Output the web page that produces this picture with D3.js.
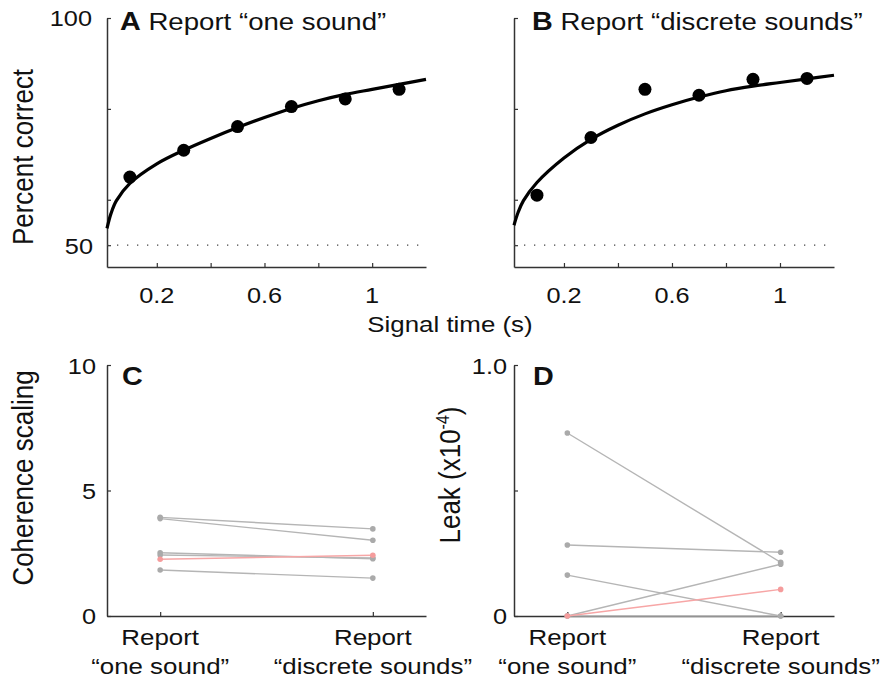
<!DOCTYPE html>
<html>
<head>
<meta charset="utf-8">
<script src="https://cdn.jsdelivr.net/npm/d3@7"></script>
<style>
  body { margin: 0; background: #fff; }
  svg { display: block; font-family: "Liberation Sans", Arial, Helvetica, sans-serif; }
</style>
</head>
<body>
<div id="chart"></div>
<script>
// signal durations and percent correct (panels A, B)
const signalTimes = [0.1, 0.3, 0.5, 0.7, 0.9, 1.1];
const pctOneSound = [65.0, 70.9, 76.1, 80.5, 82.2, 84.3];
const pctDiscrete = [61.0, 73.7, 84.3, 83.0, 86.5, 86.7];

// model fit curves
const fitTimes = [0.015, 0.03, 0.05, 0.1, 0.2, 0.3, 0.4, 0.5, 0.6, 0.7, 0.8, 0.9, 1.0, 1.1, 1.2];
const fitOneSound = [53.7, 57.0, 59.8, 63.6, 67.9, 70.9, 73.5, 75.9, 78.1, 80.1, 81.8, 83.2, 84.3, 85.4, 86.5];
const fitDiscrete = [54.4, 57.2, 59.8, 63.8, 69.2, 73.3, 76.4, 78.9, 80.9, 82.6, 84.0, 85.0, 85.8, 86.6, 87.4];

// per-subject parameters (panels C, D); last subject is the pink one
const conditions = ['Report|\u201cone sound\u201d', 'Report|\u201cdiscrete sounds\u201d'];
const cohOneSound = [3.93, 3.88, 2.52, 2.43, 1.83, 2.26];
const cohDiscrete = [3.47, 3.02, 2.28, 2.31, 1.51, 2.42];
const leakOneSound = [0.729, 0.283, 0.163, 0.0, 0.0, 0.0];
const leakDiscrete = [0.214, 0.254, 0.0, 0.206, 0.0, 0.106];

const xTicksA = [0.2, 0.4, 0.6, 0.8, 1.0];
const xTickLabels = {0.2: '0.2', 0.6: '0.6', 1: '1'};

const width = 884, height = 681;
const stretch = 1.15; // glyphs in the figure are a bit wider than tall

const svg = d3.select('#chart').append('svg')
    .attr('width', width)
    .attr('height', height);

function addText(x, y, str, size, anchor, rot) {
    let t = svg.append('text')
        .attr('transform', 'translate(' + x + ',' + y + ') scale(' + stretch + ',1)' + (rot ? ' rotate(' + rot + ')' : ''))
        .attr('font-size', size)
        .attr('text-anchor', anchor || 'start')
        .attr('fill', '#111')
        .text(str);
    return t;
}

function title(x, y, letter, str) {
    let t = svg.append('text')
        .attr('transform', 'translate(' + x + ',' + y + ') scale(' + stretch + ',1)')
        .attr('fill', '#111');
    t.append('tspan').attr('font-size', 25).attr('font-weight', 'bold').text(letter);
    if (str) t.append('tspan').attr('font-size', 24).text(' ' + str);
}

function drawAxes(x, y, xTicks, yTicks) {
    svg.append('g')
        .attr('transform', 'translate(' + x.range()[0] + ',0)')
        .call(d3.axisLeft(y).tickValues(yTicks).tickSizeInner(-4).tickSizeOuter(0).tickFormat(''))
        .call(styleAxis);
    svg.append('g')
        .attr('transform', 'translate(0,' + y.range()[0] + ')')
        .call(d3.axisBottom(x).tickValues(xTicks).tickSizeInner(-4).tickSizeOuter(0).tickFormat(''))
        .call(styleAxis);
}

function styleAxis(g) {
    g.select('.domain').attr('stroke', '#333').attr('stroke-width', 1.5);
    g.selectAll('.tick line').attr('stroke', '#333').attr('stroke-width', 1.2);
}

// ---- panels A and B ----
let yPct = d3.scaleLinear().domain([45.2, 100]).range([267, 18]);
let xA = d3.scaleLinear().domain([0.015, 1.2]).range([107, 426]);
let xB = d3.scaleLinear().domain([0.015, 1.2]).range([514, 834]);

function psychPanel(x, pts, fit, showY) {
    drawAxes(x, yPct, xTicksA, [50, 60, 80, 100]);

    svg.append('line')
        .attr('x1', x.range()[0]).attr('x2', x.range()[1])
        .attr('y1', yPct(50)).attr('y2', yPct(50))
        .attr('stroke', '#444')
        .attr('stroke-width', 1.3)
        .attr('stroke-dasharray', '1.3,8.7');

    let line = d3.line()
        .x(function(d, i) { return x(fitTimes[i]); })
        .y(function(d) { return yPct(d); })
        .curve(d3.curveCatmullRom.alpha(0.5));

    svg.append('path')
        .datum(fit)
        .attr('d', line)
        .attr('fill', 'none')
        .attr('stroke', '#000')
        .attr('stroke-width', 3.2);

    svg.append('g').selectAll('circle')
        .data(pts)
        .enter().append('circle')
        .attr('cx', function(d, i) { return x(signalTimes[i]); })
        .attr('cy', function(d) { return yPct(d); })
        .attr('r', 6.5)
        .attr('fill', '#000');

    xTicksA.forEach(function(v) {
        if (xTickLabels[v]) addText(x(v), 303, xTickLabels[v], 22, 'middle');
    });
    if (showY) {
        addText(92, yPct(100) + 8, '100', 22, 'end');
        addText(93, yPct(50) + 9, '50', 22, 'end');
    }
}

psychPanel(xA, pctOneSound, fitOneSound, true);
psychPanel(xB, pctDiscrete, fitDiscrete, false);

title(120, 30, 'A', 'Report \u201cone sound\u201d');
title(532, 30, 'B', 'Report \u201cdiscrete sounds\u201d');

svg.append('text')
    .attr('transform', 'translate(33,157) rotate(-90) scale(1,' + stretch + ')')
    .attr('font-size', 26).attr('text-anchor', 'middle').attr('fill', '#111')
    .text('Percent correct');

addText(450, 332, 'Signal time (s)', 22.5, 'middle');

// ---- panels C and D ----
let xC = d3.scaleLinear().domain([0.75, 2.25]).range([107, 426]);
let xD = d3.scaleLinear().domain([0.75, 2.25]).range([514, 834]);
let yCoh = d3.scaleLinear().domain([0, 10]).range([616, 365]);
let yLeak = d3.scaleLinear().domain([0, 1]).range([616, 365]);

function pairedPanel(x, y, yTicks, a, b) {
    drawAxes(x, y, [1, 2], yTicks);

    let pairs = a.map(function(v, i) { return { a: v, b: b[i], pink: i === a.length - 1 }; });
    let grp = svg.append('g').selectAll('g')
        .data(pairs)
        .enter().append('g');

    grp.append('line')
        .attr('x1', x(1)).attr('x2', x(2))
        .attr('y1', function(d) { return y(d.a); })
        .attr('y2', function(d) { return y(d.b); })
        .attr('stroke', function(d) { return d.pink ? '#f7a6a6' : '#b5b5b5'; })
        .attr('stroke-width', 1.4);

    grp.selectAll('circle')
        .data(function(d) { return [[1, d.a, d.pink], [2, d.b, d.pink]]; })
        .enter().append('circle')
        .attr('cx', function(d) { return x(d[0]); })
        .attr('cy', function(d) { return y(d[1]); })
        .attr('r', 2.8)
        .attr('fill', function(d) { return d[2] ? '#f59c9c' : '#aaaaaa'; });

    conditions.forEach(function(c, i) {
        let parts = c.split('|');
        addText(x(i + 1), 645, parts[0], 22.5, 'middle');
        addText(x(i + 1), 674, parts[1], 22.5, 'middle');
    });
}

pairedPanel(xC, yCoh, [0, 5, 10], cohOneSound, cohDiscrete);
pairedPanel(xD, yLeak, [0, 0.5, 1], leakOneSound, leakDiscrete);

addText(96, yCoh(10) + 9, '10', 22, 'end');
addText(96, yCoh(5) + 8, '5', 22, 'end');
addText(96, yCoh(0) + 8, '0', 22, 'end');
addText(507, yLeak(1) + 9, '1.0', 22, 'end');
addText(507, yLeak(0) + 8, '0', 22, 'end');

title(122, 385, 'C');
title(533, 385, 'D');

svg.append('text')
    .attr('transform', 'translate(33,478) rotate(-90) scale(1,' + stretch + ')')
    .attr('font-size', 26).attr('text-anchor', 'middle').attr('fill', '#111')
    .text('Coherence scaling');

let leakLabel = svg.append('text')
    .attr('transform', 'translate(460,475) rotate(-90) scale(1,' + stretch + ')')
    .attr('font-size', 26).attr('text-anchor', 'middle').attr('fill', '#111');
leakLabel.append('tspan').text('Leak (x10');
leakLabel.append('tspan').attr('font-size', 16).attr('dy', -10).text('-4');
leakLabel.append('tspan').attr('dy', 10).text(')');
</script>
</body>
</html>
